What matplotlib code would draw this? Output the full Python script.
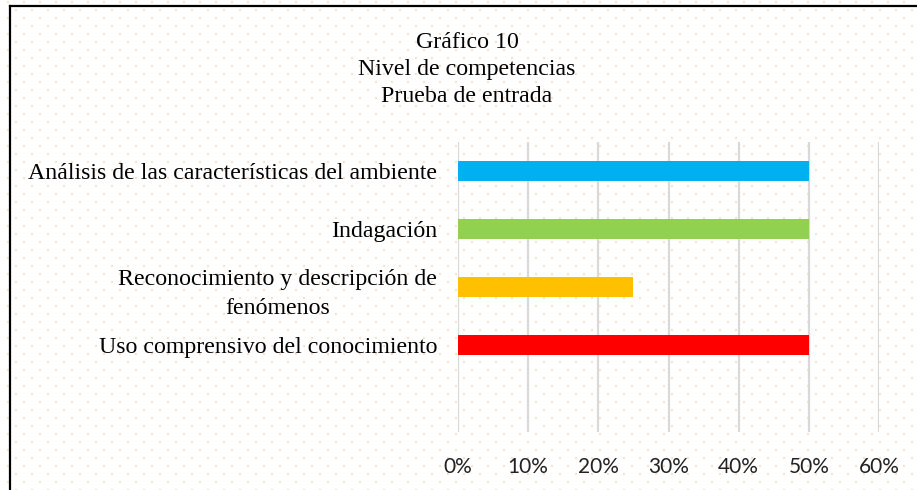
import numpy as np
import matplotlib
matplotlib.use("Agg")
import matplotlib.pyplot as plt
from matplotlib.ticker import PercentFormatter
from matplotlib.lines import Line2D

# data
categories = [
    "Análisis de las características del ambiente",
    "Indagación",
    "Reconocimiento y descripción de\nfenómenos",
    "Uso comprensivo del conocimiento",
]
values = [0.50, 0.50, 0.25, 0.50]
colors = ["#00B0F0", "#92D050", "#FFC000", "#FF0000"]
xticks = [0, 0.1, 0.2, 0.3, 0.4, 0.5, 0.6]
title_lines = ["Gráfico 10", "Nivel de competencias", "Prueba de entrada"]

W, H = 917, 490
fig = plt.figure(figsize=(W / 100, H / 100), dpi=100)

# dotted paper background
bg = np.ones((H, W, 4))
dot = np.array([0.980, 0.875, 0.820, 1.0])
for r in range(1, H, 8):
    off = 7 if (r // 8) % 2 == 0 else 15
    for c in range(off, W, 16):
        bg[r:r + 2, c:c + 2] = dot
fig.figimage(bg[::-1], xo=0, yo=0, zorder=-10, origin="lower")

# frame (only left and top visible in the crop)
fig.add_artist(Line2D([10 / W, 10 / W], [0, 1 - 6.5 / H], transform=fig.transFigure,
                      color="black", lw=1.6))
fig.add_artist(Line2D([10 / W, 1], [1 - 6.5 / H, 1 - 6.5 / H], transform=fig.transFigure,
                      color="black", lw=1.6))

ax = fig.add_axes([458 / W, 1 - 432 / H, (879 - 458) / W, 290 / H])
ax.patch.set_alpha(0)

pos = np.arange(len(categories))
ax.barh(pos, values, height=0.36, color=colors, zorder=3)

ax.set_xlim(0, 0.6)
ax.set_ylim(4.5, -0.5)
ax.set_xticks(xticks)
ax.xaxis.set_major_formatter(PercentFormatter(1.0, decimals=0))
ax.set_yticks(pos)
ax.set_yticklabels(categories, fontsize=17.2, family="Liberation Serif")
for lab in ax.get_yticklabels():
    lab.set_multialignment("center")
    lab.set_linespacing(1.55)
for lab in ax.get_xticklabels():
    lab.set_fontsize(15)
    lab.set_family("Lato")
    lab.set_color("#222222")

ax.tick_params(axis="both", length=0)
ax.tick_params(axis="x", pad=18)
ax.tick_params(axis="y", pad=15)
for s in ax.spines.values():
    s.set_visible(False)
ax.grid(axis="x", color="#D9D9D9", lw=1.6, zorder=0)
ax.set_axisbelow(True)

for i, t in enumerate(title_lines):
    fig.text(467 / W, 1 - (42 + 27.5 * i) / H, t, ha="center", va="center",
             fontsize=17.2, family="Liberation Serif")

fig.savefig("out.png", dpi=100)
